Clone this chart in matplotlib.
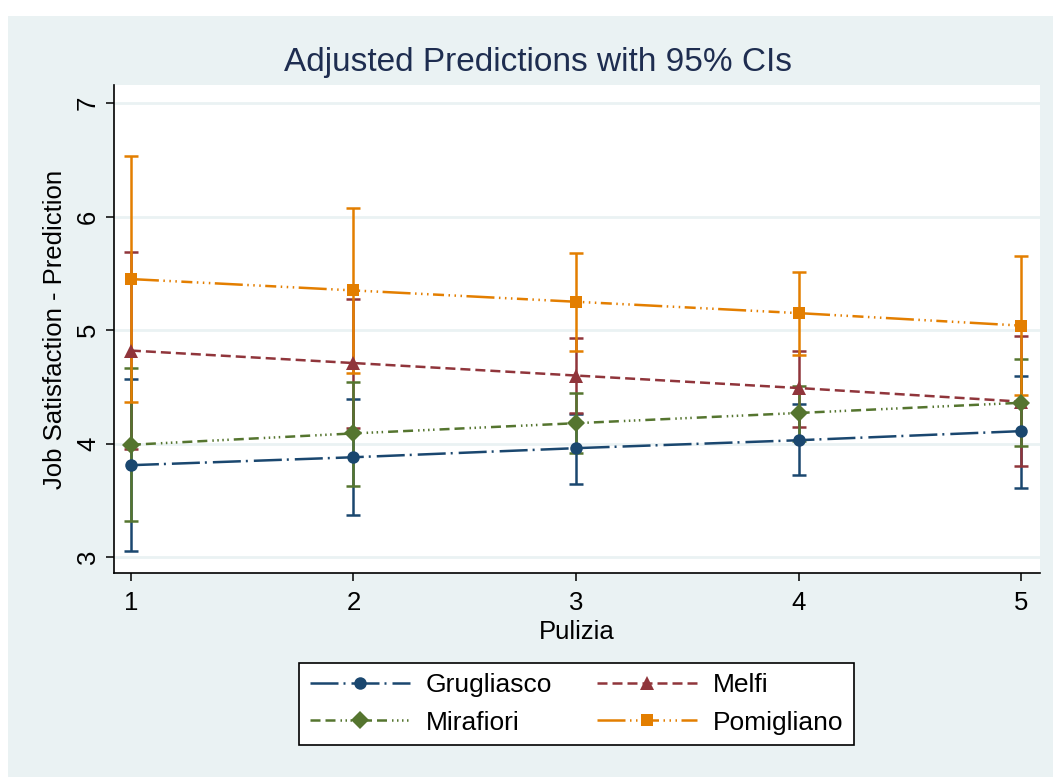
import matplotlib
matplotlib.use("Agg")
import matplotlib.pyplot as plt
from matplotlib.lines import Line2D
from matplotlib.patches import Rectangle
import numpy as np

plt.rcParams['font.family'] = ['Liberation Sans', 'DejaVu Sans']
plt.rcParams['lines.scale_dashes'] = False

# ---- data ----
pulizia = [1, 2, 3, 4, 5]
series_names = ["Grugliasco", "Melfi", "Mirafiori", "Pomigliano"]

grug_pred = [3.81, 3.88, 3.96, 4.03, 4.11]
grug_lo = [3.05, 3.37, 3.64, 3.72, 3.61]
grug_hi = [4.57, 4.39, 4.26, 4.35, 4.60]

melfi_pred = [4.82, 4.71, 4.60, 4.49, 4.37]
melfi_lo = [3.95, 4.14, 4.27, 4.15, 3.80]
melfi_hi = [5.69, 5.27, 4.93, 4.82, 4.95]

mira_pred = [3.99, 4.09, 4.18, 4.27, 4.36]
mira_lo = [3.32, 3.63, 3.92, 4.02, 3.98]
mira_hi = [4.67, 4.54, 4.45, 4.51, 4.75]

pomi_pred = [5.45, 5.35, 5.25, 5.15, 5.04]
pomi_lo = [4.37, 4.62, 4.82, 4.78, 4.43]
pomi_hi = [6.53, 6.08, 5.68, 5.51, 5.65]

yticks = [3, 4, 5, 6, 7]
xticks = [1, 2, 3, 4, 5]

# ---- styles ----
px = 0.72  # px -> pt at dpi 100
colors = ["#1a476f", "#90353b", "#55752f", "#e37e00"]
markers = ["o", "^", "D", "s"]
msizes = [9.0, 10.0, 9.5, 8.5]
dashes = [
    [v * px for v in [28, 5, 2, 6]],
    [v * px for v in [10, 5]],
    [v * px for v in [10, 5, 10, 5, 1.5, 3.5, 1.5, 3.5, 1.5, 3.5, 1.5, 5]],
    [v * px for v in [28, 4.5, 1.5, 4.5, 1.5, 4.5, 1.5, 4.5, 11, 4.5,
                      1.5, 4.5, 1.5, 4.5, 1.5, 4.5]],
]
preds = [grug_pred, melfi_pred, mira_pred, pomi_pred]
los = [grug_lo, melfi_lo, mira_lo, pomi_lo]
his = [grug_hi, melfi_hi, mira_hi, pomi_hi]

bg = "#eaf2f3"
W, H = 1053, 777
fig = plt.figure(figsize=(W / 100, H / 100), dpi=100, facecolor="white")
fig.patches.append(Rectangle((8 / W, 0), 1 - 8 / W, 1 - 16 / H,
                             transform=fig.transFigure, facecolor=bg,
                             edgecolor="none", zorder=0))

ax = fig.add_axes([114 / W, 1 - 573 / H, (1040 - 114) / W, (573 - 85) / H])
ax.set_facecolor("white")
ax.set_zorder(1)

x = np.array(pulizia, dtype=float)
for i in range(4):
    p = np.array(preds[i]); lo = np.array(los[i]); hi = np.array(his[i])
    ax.errorbar(x, p, yerr=[p - lo, hi - p], fmt="none", ecolor=colors[i],
                elinewidth=1.8, capsize=4.8, capthick=1.8, zorder=2 + i * 0.1)

handles = []
for i in range(4):
    ax.plot(x, preds[i], color=colors[i], lw=1.8, marker=markers[i],
            ms=msizes[i], markeredgewidth=0, dashes=dashes[i], zorder=4 + i * 0.1)
    handles.append(Line2D([0], [0], color=colors[i], lw=1.8, marker=markers[i],
                          ms=msizes[i], markeredgewidth=0, dashes=dashes[i]))

ax.set_xlim(0.924, 5.085)
ax.set_ylim(2.86, 7.16)
ax.set_xticks(xticks)
ax.set_yticks(yticks)
ax.set_yticklabels([str(t) for t in yticks], rotation=90, va="center")
ax.grid(axis="y", color=bg, lw=2.0, zorder=0)
ax.set_axisbelow(True)
for s in ["top", "right"]:
    ax.spines[s].set_visible(False)
for s in ["left", "bottom"]:
    ax.spines[s].set_linewidth(1.2)
    ax.spines[s].set_color("black")
ax.tick_params(axis="both", length=6, width=1.1, labelsize=18.5, colors="black")
ax.tick_params(axis="x", pad=7)
ax.tick_params(axis="y", pad=4)

ax.set_xlabel("Pulizia", fontsize=18.5, va="center")
ax.xaxis.set_label_coords(0.5, (573 - 632) / 488)
ax.set_ylabel("Job Satisfaction - Prediction", fontsize=18.5, va="center")
ax.yaxis.set_label_coords((55 - 114) / 926, 0.5)

fig.text(538 / W, 1 - 63 / H, "Adjusted Predictions with 95% CIs",
         fontsize=24, color="#1e2d50", ha="center", va="center")

# row-wise legend order: Grugliasco, Melfi / Mirafiori, Pomigliano
order = [0, 2, 1, 3]
leg = fig.legend([handles[k] for k in order], [series_names[k] for k in order],
                 ncol=2, loc="center",
                 bbox_to_anchor=(576.5 / W, 1 - 704 / H), fontsize=19,
                 frameon=True, fancybox=False, edgecolor="black", framealpha=1,
                 handlelength=3.8, handletextpad=0.6, columnspacing=1.7,
                 borderpad=0.4, labelspacing=0.5, numpoints=1)
leg.get_frame().set_linewidth(1.2)
leg.get_frame().set_facecolor("white")

fig.savefig("out.png", dpi=100, facecolor="white")
